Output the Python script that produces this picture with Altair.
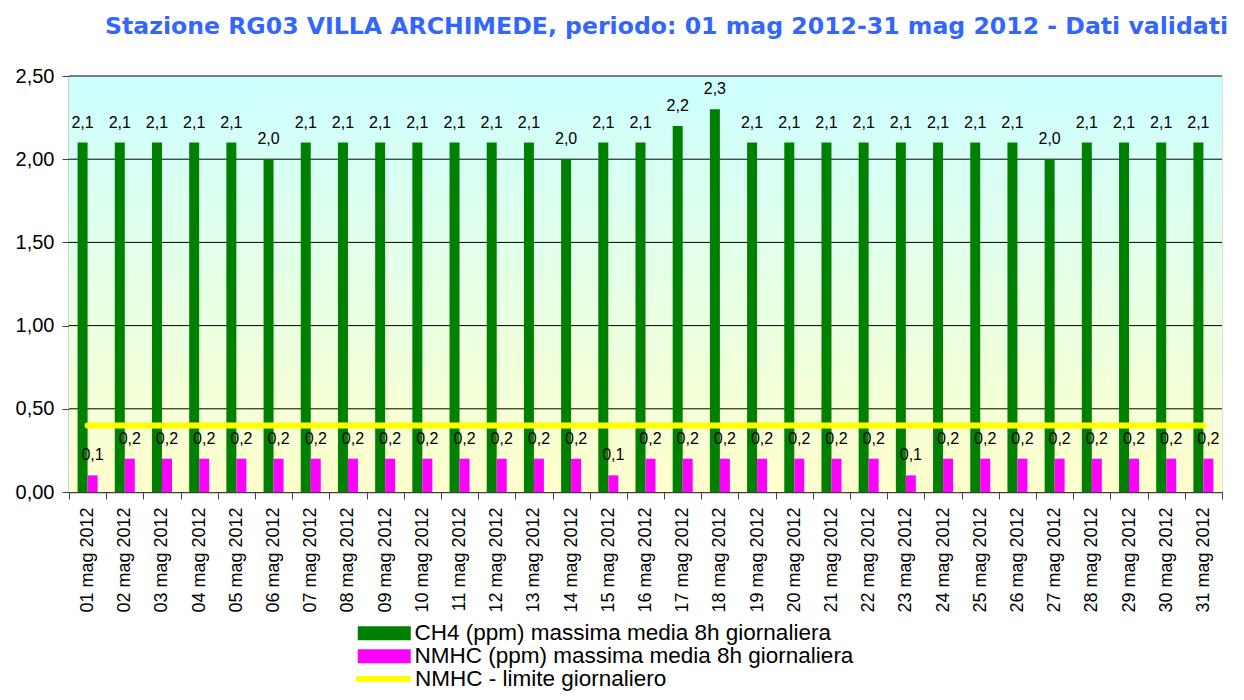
import altair as alt
import pandas as pd

days = ["01 mag 2012", "02 mag 2012", "03 mag 2012", "04 mag 2012", "05 mag 2012",
        "06 mag 2012", "07 mag 2012", "08 mag 2012", "09 mag 2012", "10 mag 2012",
        "11 mag 2012", "12 mag 2012", "13 mag 2012", "14 mag 2012", "15 mag 2012",
        "16 mag 2012", "17 mag 2012", "18 mag 2012", "19 mag 2012", "20 mag 2012",
        "21 mag 2012", "22 mag 2012", "23 mag 2012", "24 mag 2012", "25 mag 2012",
        "26 mag 2012", "27 mag 2012", "28 mag 2012", "29 mag 2012", "30 mag 2012",
        "31 mag 2012"]
ch4 = [2.1, 2.1, 2.1, 2.1, 2.1, 2.0, 2.1, 2.1, 2.1, 2.1, 2.1, 2.1, 2.1, 2.0, 2.1,
       2.1, 2.2, 2.3, 2.1, 2.1, 2.1, 2.1, 2.1, 2.1, 2.1, 2.1, 2.0, 2.1, 2.1, 2.1, 2.1]
nmhc = [0.1, 0.2, 0.2, 0.2, 0.2, 0.2, 0.2, 0.2, 0.2, 0.2, 0.2, 0.2, 0.2, 0.2, 0.1,
        0.2, 0.2, 0.2, 0.2, 0.2, 0.2, 0.2, 0.1, 0.2, 0.2, 0.2, 0.2, 0.2, 0.2, 0.2, 0.2]
limit = [0.4, 0.4, 0.4, 0.4, 0.4, 0.4, 0.4, 0.4, 0.4, 0.4, 0.4, 0.4, 0.4, 0.4, 0.4,
         0.4, 0.4, 0.4, 0.4, 0.4, 0.4, 0.4, 0.4, 0.4, 0.4, 0.4, 0.4, 0.4, 0.4, 0.4, 0.4]
grid_values = [0.5, 1.0, 1.5, 2.0, 2.5]
y_ticks = [0.0, 0.5, 1.0, 1.5, 2.0, 2.5]

S1 = "CH4 (ppm) massima media 8h giornaliera"
S2 = "NMHC (ppm) massima media 8h giornaliera"
S3 = "NMHC - limite giornaliero"
bar_series = [S1, S2]
bar_colors = ["#008000", "#FF00FF"]
line_series = [S3]
line_colors = ["#FFFF00"]

title_text = "Stazione RG03 VILLA ARCHIMEDE, periodo: 01 mag 2012-31 mag 2012 - Dati validati"

W, H = 1153, 416

rows = []
for d, v in zip(days, ch4):
    rows.append({"day": d, "series": S1, "value": v, "label": f"{v:.1f}".replace(".", ",")})
for d, v in zip(days, nmhc):
    rows.append({"day": d, "series": S2, "value": v, "label": f"{v:.1f}".replace(".", ",")})
bars_df = pd.DataFrame(rows)
line_df = pd.DataFrame({"day": days, "value": limit, "series": S3})
grid_df = pd.DataFrame({"g": grid_values})

x_enc = alt.X("day:N", sort=days, title=None,
              scale=alt.Scale(paddingInner=0, paddingOuter=0),
              axis=alt.Axis(labelAngle=-90, tickBand="extent", labelFont="Liberation Sans",
                            labelFontSize=18, labelColor="black", tickColor="#404040",
                            tickSize=7, domainColor="#404040", domainWidth=1.5,
                            labelPadding=8))
y_scale = alt.Scale(domain=[0, 2.5], nice=False)
y_enc = alt.Y("value:Q", scale=y_scale, title=None,
              axis=alt.Axis(values=y_ticks, grid=False, labelFont="Liberation Sans",
                            labelFontSize=20, labelColor="black", tickColor="#404040",
                            tickSize=7, domainColor="#404040", domainWidth=1.5,
                            labelPadding=8,
                            labelExpr="replace(format(datum.value, '.2f'), '.', ',')"))
xoff = alt.XOffset("series:N", sort=[S1, S2],
                   scale=alt.Scale(paddingInner=0, paddingOuter=0.86))

fill_enc = alt.Fill(
    "series:N",
    scale=alt.Scale(domain=bar_series, range=bar_colors),
    legend=alt.Legend(
        orient="none", legendX=304, legendY=546, direction="vertical", title=None,
        symbolType="M-2.65,-0.7H2.65V0.7H-2.65Z", symbolSize=400, symbolStrokeWidth=0,
        symbolOpacity=1,
        labelFont="Liberation Sans", labelFontSize=22.5, labelColor="black",
        labelOffset=19, rowPadding=0, labelLimit=800,
    ),
)
stroke_enc = alt.Stroke(
    "series:N",
    scale=alt.Scale(domain=line_series, range=line_colors),
    legend=alt.Legend(
        orient="none", legendX=304, legendY=590, direction="vertical", title=None,
        symbolType="M-3,0H2.5", symbolSize=400, symbolStrokeWidth=6,
        labelFont="Liberation Sans", labelFontSize=22.5, labelColor="black",
        labelOffset=16, labelLimit=800,
    ),
)

background = alt.Chart(alt.Data(values=[{}])).mark_rect(
    fill=alt.Gradient(gradient="linear",
                      stops=[alt.GradientStop(color="#CCFFFF", offset=0),
                             alt.GradientStop(color="#FFFFCC", offset=1)],
                      x1=0, x2=0, y1=0, y2=1)
).encode(x=alt.value(0), x2=alt.value(W), y=alt.value(0), y2=alt.value(H))

grid = alt.Chart(grid_df).mark_rule(color="black", strokeWidth=1).encode(
    y=alt.Y("g:Q", scale=y_scale)
)

bars = alt.Chart(bars_df).mark_bar(opacity=1).encode(
    x=x_enc, xOffset=xoff, y=y_enc, fill=fill_enc
)

labels = alt.Chart(bars_df).mark_text(
    dy=-15, baseline="alphabetic", fontSize=16, font="Liberation Sans", color="black"
).encode(x=alt.X("day:N", sort=days), xOffset=xoff, y=alt.Y("value:Q", scale=y_scale),
         text="label:N")

line = alt.Chart(line_df).mark_line(strokeWidth=6, strokeCap="round").encode(
    x=alt.X("day:N", sort=days), y=alt.Y("value:Q", scale=y_scale), stroke=stroke_enc
)

chart = alt.layer(background, grid, bars, line, labels).properties(
    width=W, height=H,
    title=alt.Title(title_text, font="DejaVu Sans", fontSize=23.6, fontWeight="bold",
                    color="#3366FF", anchor="middle", dx=21, offset=27),
    autosize=alt.AutoSizeParams(type="none"),
    padding={"left": 61, "top": 68, "right": 14, "bottom": 200},
).configure_view(stroke="#808080", strokeWidth=2).configure(background="white")

chart.save("out.html", embed_options={"renderer": "svg", "actions": False})
